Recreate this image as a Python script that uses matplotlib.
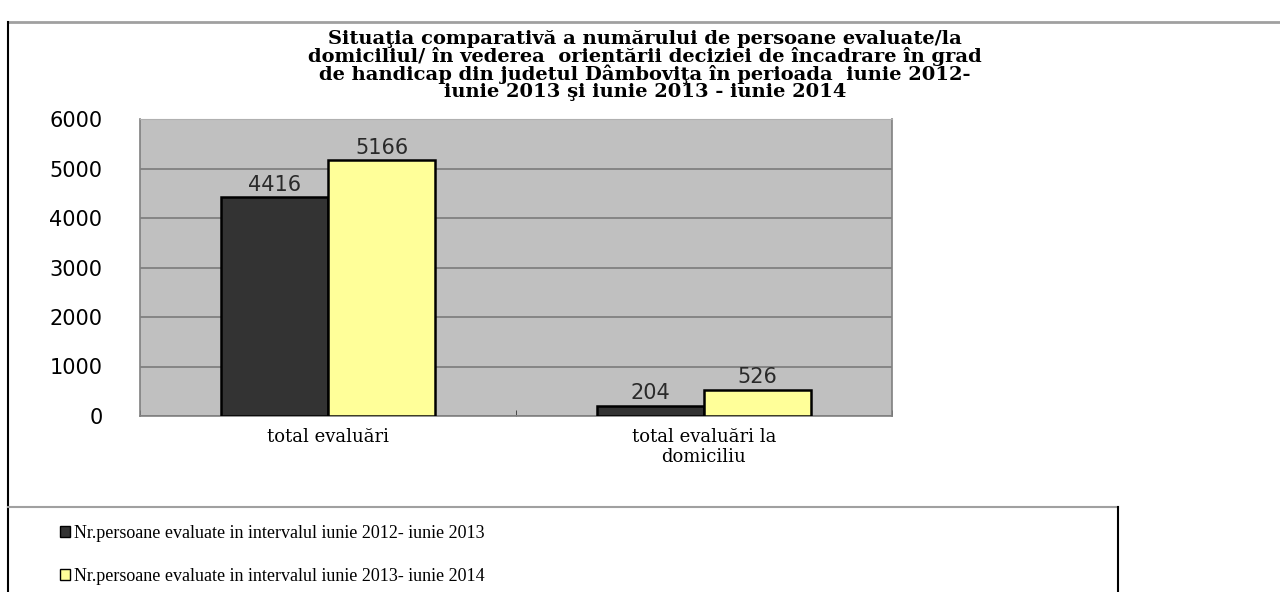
import matplotlib
matplotlib.use("Agg")
import matplotlib.pyplot as plt
from matplotlib.lines import Line2D
import numpy as np

categories = ["total evaluări", "total evaluări la\ndomiciliu"]
series_names = ["Nr.persoane evaluate in intervalul iunie 2012- iunie 2013",
                "Nr.persoane evaluate in intervalul iunie 2013- iunie 2014"]
values_2012_2013 = [4416, 204]
values_2013_2014 = [5166, 526]
y_ticks = [0, 1000, 2000, 3000, 4000, 5000, 6000]
title = ("Situaţia comparativă a numărului de persoane evaluate/la\n"
         "domiciliul/ în vederea  orientării deciziei de încadrare în grad\n"
         "de handicap din judetul Dâmboviţa în perioada  iunie 2012-\n"
         "iunie 2013 şi iunie 2013 - iunie 2014")

W, H = 1280, 592
fig = plt.figure(figsize=(W / 100, H / 100), dpi=100)
fig.patch.set_facecolor("white")

ax = fig.add_axes([140 / W, 1 - 416 / H, (892 - 140) / W, (416 - 119) / H])
ax.set_facecolor("#C0C0C0")

x = np.arange(len(categories))
bw = 0.285
b1 = ax.bar(x - bw / 2, values_2012_2013, bw, color="#333333", edgecolor="black",
            linewidth=1.8, zorder=3, label=series_names[0])
b2 = ax.bar(x + bw / 2, values_2013_2014, bw, color="#FFFF99", edgecolor="black",
            linewidth=1.8, zorder=3, label=series_names[1])

sans = ["DejaVu Sans"]
serif = ["DejaVu Serif"]
for bars in (b1, b2):
    ax.bar_label(bars, padding=2, fontsize=15, family=sans, color="#2a2a2a")

ax.set_xlim(-0.5, 1.5)
ax.set_ylim(0, 6000)
ax.set_yticks(y_ticks)
ax.set_yticklabels([str(v) for v in y_ticks], fontsize=15, family=sans)
ax.tick_params(axis="y", length=0, pad=27)
ax.yaxis.grid(True, color="#808080", linewidth=1.3, zorder=0)
ax.set_axisbelow(True)

ax.set_xticks(x)
ax.set_xticklabels(categories, fontsize=13, family=serif, linespacing=1.1)
ax.tick_params(axis="x", length=0, pad=9)
ax.set_xticks([-0.5, 0.5, 1.5], minor=True)
ax.tick_params(axis="x", which="minor", direction="in", length=4, color="#333333")

for s in ("left", "bottom", "right"):
    ax.spines[s].set_color("#808080")
    ax.spines[s].set_linewidth(1.2)
ax.spines["top"].set_color("#b0b0b0")

fig.text(645 / W, 1 - 30 / H, title, ha="center", va="top", fontsize=14,
         fontweight="bold", family=serif, linespacing=0.93)

# page frame lines
fig.add_artist(Line2D([8 / W, 1], [1 - 22 / H] * 2, transform=fig.transFigure,
                      color="#a0a0a0", lw=2))
fig.add_artist(Line2D([8 / W, 8 / W], [0, 1 - 22 / H], transform=fig.transFigure,
                      color="black", lw=1.5))
fig.add_artist(Line2D([8 / W, 1118 / W], [1 - 507 / H] * 2, transform=fig.transFigure,
                      color="#a0a0a0", lw=1.5))
fig.add_artist(Line2D([1118 / W, 1118 / W], [0, 1 - 507 / H], transform=fig.transFigure,
                      color="black", lw=1.5))

leg = fig.legend(handles=[b1, b2], labels=series_names, loc="upper left",
                 bbox_to_anchor=(51 / W, 1 - 516 / H), frameon=False,
                 prop={"family": ["Liberation Serif"], "size": 13},
                 handlelength=0.55, handleheight=0.55, handletextpad=0.2,
                 labelspacing=1.45, borderpad=0)
for h in leg.legend_handles:
    h.set_linewidth(1.0)

fig.savefig("out.png", dpi=100)
